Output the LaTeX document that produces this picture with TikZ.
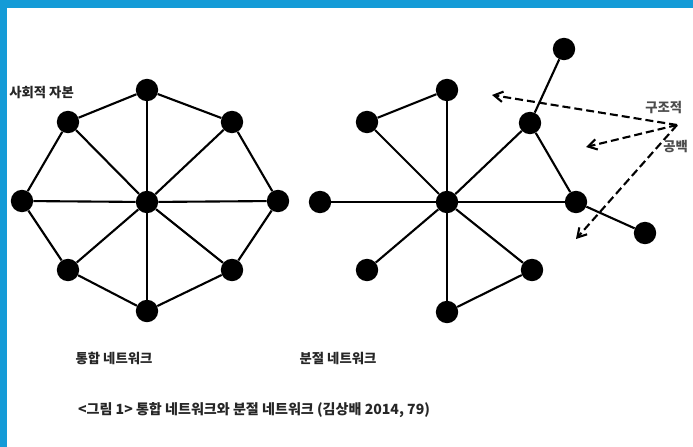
\documentclass[tikz,border=0pt]{standalone}
\usepackage{fontspec}
\newfontfamily\krfont{Noto Sans CJK KR}
\usetikzlibrary{arrows.meta}
\definecolor{frameblue}{HTML}{149BD7}
\tikzset{
  netnode/.style={circle,fill=black,minimum size=5.6mm,inner sep=0pt},
  netedge/.style={line width=1.5pt,black},
  holearrow/.style={-{Straight Barb[length=2.2mm,width=2.6mm]},line width=1.5pt,dash pattern=on 2mm off 1mm},
  netlabel/.style={font=\krfont\bfseries\fontsize{9.5}{11}\selectfont,inner sep=0pt,text=black!85},
}

\begin{document}
\begin{tikzpicture}[x=0.025cm,y=-0.025cm]
  \useasboundingbox (0,0) rectangle (693,447);
  \clip (0,0) rectangle (693,447);
  \fill[frameblue] (0,0) rectangle (693,8);
  \fill[frameblue] (0,0) rectangle (7,447);
  % integrated network
  \node[netnode] (lC) at (147,202) {};
  \node[netnode] (lN) at (147,90) {};
  \node[netnode] (lNE) at (232,122) {};
  \node[netnode] (lE) at (278,201) {};
  \node[netnode] (lSE) at (232,270) {};
  \node[netnode] (lS) at (147,311) {};
  \node[netnode] (lSW) at (68,270) {};
  \node[netnode] (lW) at (22,201) {};
  \node[netnode] (lNW) at (68,122) {};
  \draw[netedge] (lC) -- (lN);
  \draw[netedge] (lC) -- (lNE);
  \draw[netedge] (lC) -- (lE);
  \draw[netedge] (lC) -- (lSE);
  \draw[netedge] (lC) -- (lS);
  \draw[netedge] (lC) -- (lSW);
  \draw[netedge] (lC) -- (lW);
  \draw[netedge] (lC) -- (lNW);
  \draw[netedge] (lN) -- (lNE) -- (lE) -- (lSE) -- (lS) -- (lSW) -- (lW) -- (lNW) -- (lN);
  \node[netlabel,anchor=west] (lCap) at (9,93) {사회적 자본};
  % fragmented network
  \node[netnode] (rC) at (447,202) {};
  \node[netnode] (rN) at (447,90) {};
  \node[netnode] (rNE) at (530,123) {};
  \node[netnode] (rE) at (576,202) {};
  \node[netnode] (rSE) at (532,270) {};
  \node[netnode] (rS) at (447,312) {};
  \node[netnode] (rSW) at (367,270) {};
  \node[netnode] (rW) at (320,202) {};
  \node[netnode] (rNW) at (367,122) {};
  \node[netnode] (rTop) at (564,49) {};
  \node[netnode] (rFar) at (645,233) {};
  \draw[netedge] (rC) -- (rN);
  \draw[netedge] (rC) -- (rNE);
  \draw[netedge] (rC) -- (rE);
  \draw[netedge] (rC) -- (rSE);
  \draw[netedge] (rC) -- (rS);
  \draw[netedge] (rC) -- (rSW);
  \draw[netedge] (rC) -- (rW);
  \draw[netedge] (rC) -- (rNW);
  \draw[netedge] (rN) -- (rNW);
  \draw[netedge] (rS) -- (rSE);
  \draw[netedge] (rNE) -- (rE);
  \draw[netedge] (rNE) -- (rTop);
  \draw[netedge] (rE) -- (rFar);
  % structural holes
  \coordinate (hSrc) at (677,125);
  \coordinate (hA) at (492,95);
  \coordinate (hB) at (586,147);
  \coordinate (hC) at (576,239);
  \draw[holearrow] (hSrc) -- (hA);
  \draw[holearrow] (hSrc) -- (hB);
  \draw[holearrow] (hSrc) -- (hC);
  \node[netlabel,anchor=west,text=black!70] (hLab1) at (645,108) {구조적};
  \node[netlabel,anchor=west,text=black!70] (hLab2) at (663,147) {공백};
  % captions
  \node[netlabel] (lName) at (114,358) {통합 네트워크};
  \node[netlabel] (rName) at (338,358) {분절 네트워크};
  \node[netlabel,font=\krfont\bfseries\fontsize{10}{12}\selectfont] (figCap) at (254,410) {<그림 1> 통합 네트워크와 분절 네트워크 (김상배 2014, 79)};
\end{tikzpicture}
\end{document}
